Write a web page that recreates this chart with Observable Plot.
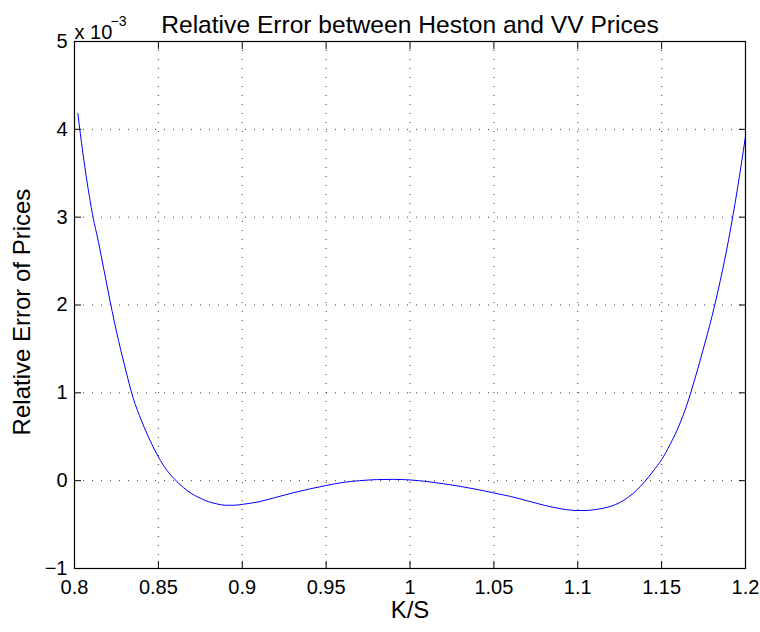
<!DOCTYPE html>
<html>
<head>
<meta charset="utf-8">
<script src="https://cdn.jsdelivr.net/npm/d3@7"></script>
<script src="https://cdn.jsdelivr.net/npm/@observablehq/plot@0.6"></script>
<style>
  html, body { margin: 0; padding: 0; background: #fff; }
  #chart svg { display: block; }
</style>
</head>
<body>
<div id="chart"></div>
<script>
// K/S values
const ks = [0.802, 0.805, 0.810, 0.815, 0.820, 0.825, 0.830, 0.835, 0.840, 0.845,
            0.850, 0.855, 0.860, 0.865, 0.870, 0.875, 0.880, 0.885, 0.890, 0.895,
            0.900, 0.910, 0.920, 0.930, 0.940, 0.950, 0.960, 0.970, 0.980, 0.990,
            1.000, 1.010, 1.020, 1.030, 1.040, 1.050, 1.060, 1.070, 1.080, 1.090,
            1.100, 1.105, 1.110, 1.115, 1.120, 1.125, 1.130, 1.135, 1.140, 1.145, 1.150,
            1.155, 1.160, 1.165, 1.170, 1.175, 1.180, 1.185, 1.190, 1.195, 1.200];
// relative error (x 10^-3)
const relErr = [4.18, 3.73, 3.11, 2.65, 2.16, 1.70, 1.30, 0.94, 0.68, 0.46,
                0.27, 0.12, 0.01, -0.08, -0.15, -0.20, -0.24, -0.265, -0.28, -0.28,
                -0.27, -0.24, -0.19, -0.14, -0.095, -0.055, -0.02, 0.0, 0.012, 0.015,
                0.008, -0.01, -0.035, -0.065, -0.10, -0.14, -0.18, -0.23, -0.28, -0.32,
                -0.34, -0.34, -0.33, -0.315, -0.29, -0.25, -0.19, -0.11, -0.01, 0.11, 0.24,
                0.41, 0.61, 0.86, 1.17, 1.51, 1.87, 2.28, 2.75, 3.30, 3.92];
const xTicks = [0.8, 0.85, 0.9, 0.95, 1, 1.05, 1.1, 1.15, 1.2];
const xTickLabels = ["0.8", "0.85", "0.9", "0.95", "1", "1.05", "1.1", "1.15", "1.2"];
const yTicks = [-1, 0, 1, 2, 3, 4, 5];
const yTickLabels = ["\u22121", "0", "1", "2", "3", "4", "5"];
const titleText = "Relative Error between Heston and VV Prices";
const xLabel = "K/S";
const yLabel = "Relative Error of Prices";
const expBase = "x 10";
const expPower = "\u22123";

const data = ks.map((k, i) => ({k, e: relErr[i]}));
const font = "'Liberation Sans', Arial, Helvetica, sans-serif";
const noText = () => "";

const chart = Plot.plot({
  width: 760,
  height: 632,
  marginLeft: 74,
  marginRight: 15,
  marginTop: 41,
  marginBottom: 64,
  style: {fontFamily: font, background: "#fff", color: "#000"},
  x: {domain: [0.8, 1.2]},
  y: {domain: [-1, 5]},
  marks: [
    Plot.gridX(xTicks, {stroke: "#000", strokeOpacity: 0.75, strokeDasharray: "1,8"}),
    Plot.gridY(yTicks, {stroke: "#000", strokeOpacity: 0.75, strokeDasharray: "1,8"}),
    Plot.line(data, {x: "k", y: "e", stroke: "#0000ff", strokeWidth: 1, curve: "monotone-x"}),
    Plot.frame({stroke: "#000", strokeWidth: 1.2}),
    // inward tick marks on all four sides
    Plot.axisX(xTicks, {anchor: "bottom", tickSize: 7, dy: -7, tickFormat: noText, label: null}),
    Plot.axisX(xTicks, {anchor: "top", tickSize: 7, dy: 7, tickFormat: noText, label: null}),
    Plot.axisY(yTicks, {anchor: "left", tickSize: 7, dx: 7, tickFormat: noText, label: null}),
    Plot.axisY(yTicks, {anchor: "right", tickSize: 7, dx: -7, tickFormat: noText, label: null}),
    // tick labels
    Plot.axisX(xTicks, {anchor: "bottom", tickSize: 0, tickPadding: 11, fontSize: 20,
      tickFormat: (d, i) => xTickLabels[i], label: null}),
    Plot.axisY(yTicks, {anchor: "left", tickSize: 0, tickPadding: 7, fontSize: 20,
      tickFormat: (d, i) => yTickLabels[i], label: null}),
    Plot.text([titleText], {frameAnchor: "top", textAnchor: "middle", dy: -26, fontSize: 24.6, text: d => d}),
    Plot.text([xLabel], {frameAnchor: "bottom", textAnchor: "middle", dy: 49, fontSize: 24, text: d => d}),
    Plot.text([yLabel], {frameAnchor: "left", textAnchor: "middle", dx: -52, dy: 7, rotate: -90, fontSize: 24, text: d => d}),
    Plot.text([expBase], {frameAnchor: "top-left", textAnchor: "start", dy: -17, fontSize: 20, text: d => d}),
    Plot.text([expPower], {frameAnchor: "top-left", textAnchor: "start", dx: 36, dy: -25, fontSize: 14, text: d => d})
  ]
});
document.getElementById("chart").appendChild(chart);
</script>
</body>
</html>
